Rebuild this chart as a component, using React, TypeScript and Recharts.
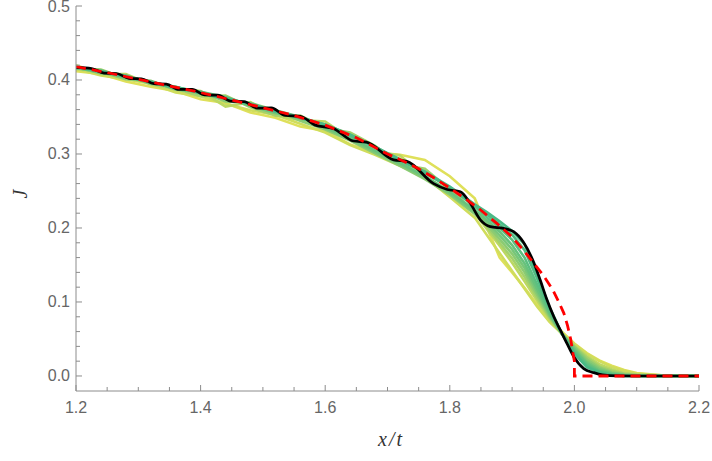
import { LineChart, Line, XAxis, YAxis } from 'recharts';

// shared x grid for the simulation runs (yellow -> green)
const gridX = [
  1.2, 1.24, 1.28, 1.32, 1.36, 1.4, 1.44, 1.48, 1.52, 1.56, 1.6, 1.64, 1.68, 1.72, 1.76, 1.8, 1.84,
  1.86, 1.88, 1.9, 1.92, 1.94, 1.96, 1.98, 2.0, 2.02, 2.04, 2.06, 2.08, 2.1, 2.14, 2.2,
];

const run0 = [
  0.412, 0.408, 0.398, 0.391, 0.385, 0.374, 0.369, 0.356, 0.349, 0.337, 0.331, 0.313, 0.302, 0.299, 0.292, 0.27, 0.24,
  0.2, 0.16, 0.14, 0.119, 0.097, 0.078, 0.06, 0.044, 0.031, 0.021, 0.014, 0.008, 0.004, 0.001, 0,
];
const run1 = [
  0.415, 0.406, 0.401, 0.395, 0.383, 0.378, 0.368, 0.359, 0.353, 0.341, 0.329, 0.312, 0.299, 0.284, 0.269, 0.242, 0.214,
  0.19, 0.166, 0.142, 0.118, 0.094, 0.073, 0.057, 0.043, 0.03, 0.02, 0.012, 0.007, 0.003, 0.001, 0,
];
const run2 = [
  0.42, 0.408, 0.408, 0.394, 0.388, 0.385, 0.364, 0.37, 0.352, 0.346, 0.344, 0.321, 0.303, 0.298, 0.269, 0.25, 0.22,
  0.198, 0.176, 0.153, 0.128, 0.102, 0.077, 0.057, 0.041, 0.027, 0.016, 0.009, 0.004, 0.002, 0.0005, 0,
];
const run3 = [
  0.415, 0.414, 0.402, 0.398, 0.388, 0.378, 0.379, 0.363, 0.352, 0.352, 0.335, 0.329, 0.311, 0.286, 0.28, 0.252, 0.222,
  0.201, 0.18, 0.159, 0.134, 0.106, 0.079, 0.057, 0.04, 0.025, 0.013, 0.007, 0.003, 0.0015, 0.0003, 0,
];
const run4 = [
  0.416, 0.411, 0.401, 0.399, 0.387, 0.384, 0.371, 0.369, 0.359, 0.345, 0.333, 0.318, 0.301, 0.284, 0.266, 0.245, 0.219,
  0.204, 0.185, 0.165, 0.14, 0.11, 0.081, 0.057, 0.039, 0.022, 0.011, 0.005, 0.002, 0.001, 0, 0,
];
const run5 = [
  0.417, 0.409, 0.406, 0.395, 0.391, 0.381, 0.376, 0.365, 0.355, 0.35, 0.335, 0.32, 0.303, 0.286, 0.268, 0.247, 0.221,
  0.207, 0.19, 0.171, 0.146, 0.114, 0.083, 0.057, 0.037, 0.019, 0.009, 0.004, 0.0015, 0.0005, 0, 0,
];
const run6 = [
  0.416, 0.413, 0.403, 0.398, 0.388, 0.384, 0.377, 0.366, 0.359, 0.35, 0.336, 0.322, 0.305, 0.288, 0.27, 0.249, 0.224,
  0.21, 0.195, 0.177, 0.152, 0.118, 0.085, 0.057, 0.035, 0.017, 0.007, 0.003, 0.001, 0, 0, 0,
];
const run7 = [
  0.418, 0.411, 0.406, 0.396, 0.39, 0.384, 0.374, 0.368, 0.358, 0.348, 0.34, 0.326, 0.31, 0.291, 0.276, 0.254, 0.229,
  0.214, 0.2, 0.184, 0.16, 0.124, 0.088, 0.057, 0.033, 0.015, 0.006, 0.002, 0.0005, 0, 0, 0,
];
const run8 = [
  0.417, 0.412, 0.404, 0.398, 0.389, 0.383, 0.376, 0.367, 0.357, 0.35, 0.339, 0.325, 0.309, 0.293, 0.274, 0.255, 0.231,
  0.218, 0.205, 0.191, 0.17, 0.132, 0.091, 0.057, 0.031, 0.013, 0.005, 0.0015, 0, 0, 0, 0,
];
const run9 = [
  0.418, 0.411, 0.405, 0.397, 0.391, 0.382, 0.375, 0.368, 0.358, 0.349, 0.34, 0.326, 0.31, 0.292, 0.276, 0.256, 0.232,
  0.221, 0.209, 0.196, 0.178, 0.138, 0.093, 0.057, 0.03, 0.012, 0.004, 0.001, 0, 0, 0, 0,
];

const runs = [run0, run1, run2, run3, run4, run5, run6, run7, run8, run9];
const runColors = [
  '#dfe05a', '#d0dd5c', '#bcd862', '#a4d16a', '#8ccb72',
  '#78c678', '#68c27c', '#5cbf80', '#52bc83', '#4ab986',
];

// exact solution (black, oscillating)
const blackX = [
  1.2, 1.225, 1.245, 1.265, 1.285, 1.305, 1.325, 1.345, 1.3655, 1.3865, 1.4065, 1.4275, 1.448, 1.47, 1.4905, 1.5135,
  1.536, 1.56, 1.584, 1.613, 1.6455, 1.666, 1.71, 1.731, 1.774, 1.796, 1.817, 1.833, 1.849, 1.865, 1.886, 1.9025,
  1.918, 1.935, 1.945, 1.956, 1.967, 1.9775, 1.988, 1.999, 2.015, 2.031, 2.045, 2.07, 2.1, 2.2,
];
const blackJ = [
  0.417, 0.4155, 0.4093, 0.4088, 0.4022, 0.4016, 0.395, 0.3944, 0.3872, 0.3874, 0.3797, 0.3795, 0.3714, 0.3708, 0.362, 0.3622,
  0.352, 0.351, 0.339, 0.3345, 0.3175, 0.316, 0.292, 0.29, 0.26, 0.252, 0.249, 0.233, 0.211, 0.2018, 0.1995, 0.195,
  0.181, 0.153, 0.13, 0.103, 0.08, 0.062, 0.044, 0.026, 0.01, 0.0045, 0.0015, 0.0002, 0, 0,
];

// hydrodynamic prediction (red dashed)
const redX = [
  1.2, 1.25, 1.3, 1.35, 1.4, 1.45, 1.5, 1.55, 1.6, 1.65, 1.7, 1.725, 1.75, 1.775, 1.8, 1.825, 1.85, 1.875, 1.9,
  1.925, 1.95, 1.965, 1.975, 1.983, 1.989, 1.994, 1.997, 2.0, 2.0, 2.2,
];
const redJ = [
  0.418, 0.41, 0.401, 0.392, 0.383, 0.373, 0.3625, 0.352, 0.339, 0.322, 0.3, 0.2905, 0.28, 0.2675, 0.254, 0.2395, 0.224, 0.2065, 0.188,
  0.163, 0.136, 0.117, 0.1, 0.085, 0.068, 0.05, 0.034, 0.02, 0, 0,
];

const xMajor = [1.2, 1.4, 1.6, 1.8, 2.0, 2.2];
const xMinor = [1.25, 1.3, 1.35, 1.45, 1.5, 1.55, 1.65, 1.7, 1.75, 1.85, 1.9, 1.95, 2.05, 2.1, 2.15];
const yMajor = [0, 0.1, 0.2, 0.3, 0.4, 0.5];
const yMinor = [
  0.02, 0.04, 0.06, 0.08, 0.12, 0.14, 0.16, 0.18, 0.22, 0.24, 0.26, 0.28,
  0.32, 0.34, 0.36, 0.38, 0.42, 0.44, 0.46, 0.48,
];

const FRAME = '#8c8c8c';
const LABEL = '#666666';
const SANS = '"Liberation Sans", Arial, sans-serif';
const SERIF = '"Liberation Serif", "Times New Roman", serif';

const isMajor = (v: number, list: number[]) => list.some((m) => Math.abs(m - v) < 1e-9);

function BottomTick({ x, y, payload }: any) {
  const major = isMajor(payload.value, xMajor);
  const axisY = y - 10;
  return (
    <g>
      <line x1={x} x2={x} y1={axisY} y2={axisY - (major ? 6 : 4)} stroke={FRAME} />
      {major && (
        <text x={x} y={y + 12} textAnchor="middle" fill={LABEL} fontSize={16} fontFamily={SANS}>
          {payload.value.toFixed(1)}
        </text>
      )}
    </g>
  );
}

function TopTick({ x, y, payload }: any) {
  const major = isMajor(payload.value, xMajor);
  return <line x1={x} x2={x} y1={y} y2={y + (major ? 6 : 4)} stroke={FRAME} />;
}

function LeftTick({ x, y, payload }: any) {
  const major = isMajor(payload.value, yMajor);
  const axisX = x + 6;
  return (
    <g>
      <line x1={axisX} x2={axisX + (major ? 6 : 4)} y1={y} y2={y} stroke={FRAME} />
      {major && (
        <text x={x} y={y} dy={5.5} textAnchor="end" fill={LABEL} fontSize={16} fontFamily={SANS}>
          {payload.value.toFixed(1)}
        </text>
      )}
    </g>
  );
}

function RightTick({ x, y, payload }: any) {
  const major = isMajor(payload.value, yMajor);
  return <line x1={x} x2={x - (major ? 6 : 4)} y1={y} y2={y} stroke={FRAME} />;
}

const runTable = gridX.map((x, i) => {
  const row: Record<string, number> = { x };
  runs.forEach((r, k) => {
    row[`r${k}`] = r[i];
  });
  return row;
});
const blackData = blackX.map((x, i) => ({ x, j: blackJ[i] }));
const redData = redX.map((x, i) => ({ x, j: redJ[i] }));

const X_DOMAIN: [number, number] = [1.2, 2.2];
const Y_DOMAIN: [number, number] = [-0.0203, 0.5];

export default function App() {
  const xTicks = [...xMajor, ...xMinor];
  const yTicks = [...yMajor, ...yMinor];
  return (
    <div style={{ position: 'absolute', left: 0, top: 0, width: 712, height: 461, background: '#fff' }}>
      <LineChart
        width={712}
        height={461}
        data={runTable}
        margin={{ top: 6, right: 13, bottom: 40, left: 16 }}
      >
        <XAxis
          xAxisId="b"
          dataKey="x"
          type="number"
          domain={X_DOMAIN}
          allowDataOverflow
          ticks={xTicks}
          interval={0}
          tickSize={0}
          tickMargin={10}
          height={30}
          tick={<BottomTick />}
          tickLine={false}
          axisLine={{ stroke: FRAME }}
        />
        <XAxis
          xAxisId="t"
          orientation="top"
          dataKey="x"
          type="number"
          domain={X_DOMAIN}
          allowDataOverflow
          ticks={xTicks}
          interval={0}
          tickSize={0}
          tickMargin={0}
          height={0}
          tick={<TopTick />}
          tickLine={false}
          axisLine={{ stroke: FRAME }}
        />
        <YAxis
          yAxisId="l"
          type="number"
          domain={Y_DOMAIN}
          allowDataOverflow
          ticks={yTicks}
          interval={0}
          tickSize={0}
          tickMargin={6}
          width={60}
          tick={<LeftTick />}
          tickLine={false}
          axisLine={{ stroke: FRAME }}
        />
        <YAxis
          yAxisId="r"
          orientation="right"
          type="number"
          domain={Y_DOMAIN}
          allowDataOverflow
          ticks={yTicks}
          interval={0}
          tickSize={0}
          tickMargin={0}
          width={0}
          tick={<RightTick />}
          tickLine={false}
          axisLine={{ stroke: FRAME }}
        />
        {runs.map((_, k) => (
          <Line
            key={k}
            xAxisId="b"
            yAxisId="l"
            type="linear"
            dataKey={`r${k}`}
            stroke={runColors[k]}
            strokeWidth={2.6}
            dot={false}
            activeDot={false}
            isAnimationActive={false}
          />
        ))}
        <Line
          xAxisId="b"
          yAxisId="l"
          data={blackData}
          type="monotone"
          dataKey="j"
          stroke="#000"
          strokeWidth={2.7}
          dot={false}
          activeDot={false}
          isAnimationActive={false}
        />
        <Line
          xAxisId="b"
          yAxisId="l"
          data={redData}
          type="linear"
          dataKey="j"
          stroke="#ff0000"
          strokeWidth={2.8}
          strokeDasharray="10 6"
          dot={false}
          activeDot={false}
          isAnimationActive={false}
        />
      </LineChart>
      <div
        style={{
          position: 'absolute',
          left: 20,
          top: 194,
          transform: 'translate(-50%, -50%) rotate(-90deg)',
          fontFamily: SERIF,
          fontStyle: 'italic',
          fontSize: 20,
          color: '#333',
          lineHeight: 1,
        }}
      >
        J
      </div>
      <div
        style={{
          position: 'absolute',
          left: 391,
          top: 439,
          transform: 'translate(-50%, -50%)',
          fontFamily: SERIF,
          fontStyle: 'italic',
          fontSize: 20,
          color: '#333',
          lineHeight: 1,
          letterSpacing: 2,
        }}
      >
        x/t
      </div>
    </div>
  );
}
